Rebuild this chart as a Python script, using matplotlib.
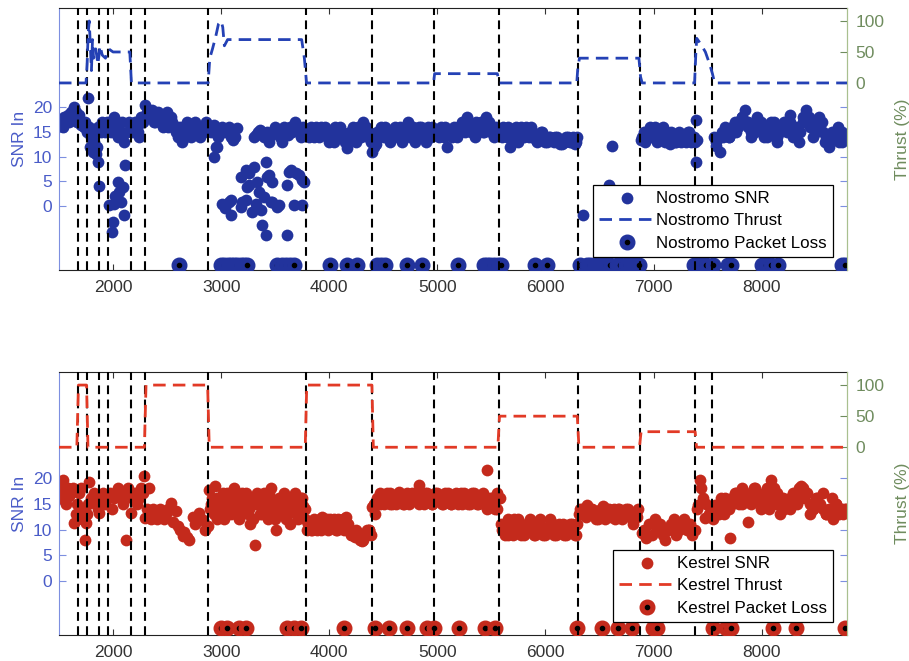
import matplotlib.pyplot as plt
from matplotlib.lines import Line2D
from matplotlib.legend_handler import HandlerTuple

plt.rcParams['font.family'] = ['Liberation Sans', 'DejaVu Sans']
plt.rcParams['font.size'] = 12.5

# flight event markers (shared by both vehicles)
events = [1674, 1760, 1874, 1957, 2166, 2298, 2880, 3784, 4400, 4972,
          5566, 6299, 6874, 7388, 7545]

# ---- Nostromo ----
nos_snr_x = [1505, 1520, 1535, 1550, 1565, 1580, 1595, 1610, 1625, 1640, 1655, 1670, 1685, 1700, 1715, 1730,
             1745, 1760, 1772, 1780, 1790, 1800, 1810, 1820, 1830, 1840, 1850, 1858, 1865, 1874, 1885, 1895,
             1905, 1925, 1945, 1965, 1985, 2005, 2025, 2045, 2065, 2085, 2105, 2125, 2145, 2165,
             1966, 1991, 1997, 2005, 2020, 2043, 2059, 2074, 2089, 2105, 2110,
             2180, 2200, 2220, 2240, 2260, 2280, 2300, 2320, 2340, 2360, 2380, 2400, 2420, 2440, 2460, 2480,
             2500, 2520, 2540, 2560, 2580, 2600, 2620, 2640, 2660, 2680, 2700, 2720, 2740, 2760, 2780, 2800,
             2820, 2840, 2860,
             2890, 2910, 2930, 2950, 2970, 2990, 3010, 3030, 3050, 3070, 3090, 3110, 3130, 3150,
             2936, 2966, 3012, 3040, 3074, 3089, 3089, 3181, 3181, 3197, 3227, 3228, 3243, 3258, 3259, 3289,
             3304, 3320, 3335, 3351, 3366, 3382, 3397, 3412, 3412, 3427, 3443, 3458, 3474, 3474, 3520, 3535,
             3612, 3612, 3628, 3643, 3674, 3689, 3720, 3751, 3751, 3766,
             3300, 3320, 3340, 3360, 3380, 3400, 3420, 3440, 3460, 3480, 3500, 3520, 3540, 3560, 3580, 3600,
             3620, 3640, 3660, 3680, 3700, 3720, 3740, 3760, 3780,
             3800, 3830, 3860, 3890, 3920, 3950, 3980, 4010, 4040, 4070, 4100, 4130, 4160, 4190, 4220, 4250,
             4280, 4310, 4340, 4370, 4400, 4430, 4460, 4490, 4520, 4550, 4580, 4610, 4640, 4670, 4700, 4730,
             4760, 4790, 4820, 4850, 4880, 4910, 4940, 4970,
             5000, 5030, 5060, 5090, 5120, 5150, 5180, 5210, 5240, 5270, 5300, 5330, 5360, 5390, 5420, 5450,
             5480, 5510, 5540, 5560,
             5580, 5610, 5640, 5670, 5700, 5730, 5760, 5790, 5820, 5850, 5880, 5910, 5940, 5970, 6000, 6030,
             6060, 6090, 6120, 6150, 6180, 6210, 6240, 6270, 6295,
             6351, 6591, 6618,
             6880, 6910, 6940, 6970, 7000, 7030, 7060, 7090, 7120, 7150, 7180, 7210, 7240, 7270, 7300, 7330,
             7360, 7385,
             7397, 7397, 7405,
             7560, 7581, 7612, 7640, 7670, 7700, 7730, 7760, 7790, 7820, 7843, 7870, 7900, 7930, 7960, 7990,
             8020, 8050, 8080, 8110, 8140, 8170, 8200, 8230, 8260, 8290, 8320, 8350, 8380, 8410, 8440, 8470,
             8500, 8530, 8560, 8590, 8620, 8650, 8680, 8710, 8740, 8770, 8785,
             # second sample per interval
             2190, 2230, 2270, 2310, 2350, 2390, 2430, 2470, 2510, 2550, 2590, 2630, 2670, 2710, 2750, 2790,
             2830, 2870,
             3815, 3845, 3875, 3905, 3935, 3965, 3995, 4025, 4055, 4085, 4115, 4145, 4175, 4205, 4235, 4265,
             4295, 4325, 4355, 4385, 4415, 4445, 4475, 4505, 4535, 4565, 4595, 4625, 4655, 4685, 4715, 4745,
             4775, 4805, 4835, 4865, 4895, 4925, 4955,
             5015, 5045, 5075, 5105, 5135, 5165, 5195, 5225, 5255, 5285, 5315, 5345, 5375, 5405, 5435, 5465,
             5495, 5525,
             5595, 5625, 5655, 5685, 5715, 5745, 5775, 5805, 5835, 5865, 5895, 5925, 5955, 5985, 6015, 6045,
             6075, 6105, 6135, 6165, 6195, 6225, 6255, 6285,
             6895, 6925, 6955, 6985, 7015, 7045, 7075, 7105, 7135, 7165, 7195, 7225, 7255, 7285, 7315, 7345,
             7375,
             7575, 7605, 7635, 7665, 7695, 7725, 7755, 7785, 7815, 7845, 7875, 7905, 7935, 7965, 7995, 8025,
             8055, 8085, 8115, 8145, 8175, 8205, 8235, 8265, 8295, 8325, 8355, 8385, 8415, 8445, 8475, 8505,
             8535, 8565, 8595, 8625, 8655, 8685, 8715, 8745, 8775]
nos_snr_y = [16.5, 17.5, 16, 18, 17, 18.5, 17, 19, 18, 20, 19, 17, 18.5, 16.5, 17, 16,
             17, 15, 22, 16, 12, 14, 11, 13, 15, 10.5, 12, 9, 16, 4, 15, 17,
             16, 15, 17, 16, 15, 18, 16, 14, 15, 17, 13, 15, 17, 16,
             0.2, -5.2, -3.2, 0.5, 2, 4.9, 2.9, 0.9, 3.9, -1.8, 8.3,
             15, 17, 16, 14, 18, 17, 20.5, 19, 18, 19.5, 17, 18, 19, 17, 16, 18,
             19, 17, 18, 16, 15, 14, 16, 13, 15, 17, 16, 14, 15, 17, 16, 14,
             16, 15, 17,
             16, 15, 16.5, 12, 14, 15, 16, 15, 15.5, 16, 14, 13.5, 14, 15.8,
             10.0, 12.0, 0.5, -0.5, 0.9, 1.2, -1.9, -0.2, 5.9, 0.9, 1.2, 7.3, 3.9, 6.6, 4.3, -1.2,
             8.0, 0.5, 4.9, 2.9, -0.8, -3.9, 1.9, 9.0, -5.9, 5.9, 6.3, 0.9, 4.9, 0.9, -0.2, 0.2,
             -5.9, 4.2, 7.0, 7.3, 0.2, 6.6, 6.3, 5.3, 0.2, 4.9,
             14, 14.5, 15, 15.5, 15, 14, 15, 13, 14.5, 15, 16, 15, 14, 13, 16, 15,
             14.5, 16, 15, 17, 16, 15, 14, 16, 15,
             15, 16, 14, 15, 16, 14.5, 15, 14, 13, 15, 16, 14, 11.7, 15, 16, 13,
             15, 17, 16, 15, 11, 12.5, 14, 15, 16, 14, 15, 16, 15, 13, 15, 17,
             15, 13, 14, 16, 15, 16, 14, 15,
             15, 16, 14, 12, 15, 16, 14, 15, 16.5, 18, 16, 15, 17, 16, 15, 18,
             17, 15, 16, 14.5,
             15, 16, 14, 12, 15, 16, 14, 15, 16, 14, 15, 13.5, 14, 15, 13, 14,
             13.5, 14, 13, 12.5, 13, 14, 13, 12.5, 14,
             -1.8, 4.3, 12.2,
             13.5, 15, 14, 16, 15, 13, 14, 16, 15, 12.5, 14, 13, 15, 14, 13, 15,
             14, 13,
             17.5, 9.0, 13.5,
             14, 12.1, 11, 14, 15, 14, 16, 15, 17, 18, 19.5, 17, 15, 16, 18, 17,
             15, 14, 16, 17, 13, 15, 16, 17, 18.5, 16, 15, 13, 17, 19.5, 18, 16,
             15, 18, 17, 13, 12, 15, 14, 16, 13, 14, 14.4,
             # second sample per interval
             16, 15, 17, 19, 18, 17, 18, 17, 16, 17, 16, 15, 14, 15, 16, 15,
             15, 16,
             14, 15, 16, 14, 15, 16, 13, 15, 16, 14, 15, 13, 14, 15, 14, 16,
             14, 15, 14, 13, 12, 15, 16, 14, 15, 13, 14, 15, 16, 14, 16, 14,
             16, 15, 16, 14, 13, 15, 16,
             14, 15, 16, 15, 14, 15, 16, 17, 15, 16, 15, 14, 16, 17, 15, 16,
             15, 14,
             14, 15, 16, 14, 15, 13, 16, 14, 15, 16, 14, 13, 15, 14, 13, 14,
             13, 14, 12.5, 13.5, 14, 13, 14, 13,
             14, 13, 15, 14, 16, 14, 15, 13, 14, 15, 13, 14, 13, 14, 15, 13,
             14,
             13, 14, 15, 16, 14, 15, 17, 16, 18, 17, 16, 14, 15, 17, 16, 14,
             15, 17, 15, 14, 16, 17, 15, 17, 14, 16, 15, 18, 17, 16, 14, 17,
             16, 15, 14, 13, 14, 15, 13, 15, 14]
nos_thrust_x = [1500, 1750, 1760, 1770, 1780, 1790, 1800, 1810, 1820, 1840, 1860, 1880, 1900, 1930, 1960,
                2000, 2155, 2170, 2880, 2895, 2920, 2950, 2975, 3000, 3015, 3030, 3060, 3085, 3745, 3770,
                3790, 4965, 4975, 5555, 5575, 6290, 6300, 6315, 6865, 6880, 6895, 7380, 7392, 7400, 7440,
                7480, 7520, 7545, 7565, 8790]
nos_thrust_y = [0, 0, 30, 80, 100, 60, 20, 70, 40, 55, 30, 60, 45, 40, 55,
                50, 50, 0, 0, 40, 55, 75, 95, 100, 90, 60, 70, 70, 70, 40,
                0, 0, 15, 15, 0, 0, 25, 40, 40, 10, 0, 0, 50, 72, 62,
                50, 30, 15, 0, 0]
nos_loss_x = [2612, 3000, 3030, 3060, 3090, 3120, 3150, 3180, 3210, 3235, 3520, 3560, 3600, 3640, 3675,
              4010, 4165, 4260, 4440, 4480, 4520, 4720, 4860, 5195, 5430, 5460, 5490, 5520, 5560, 5590,
              5905, 6013, 6320, 6385, 6415, 6445, 6475, 6505, 6535, 6565, 6597, 6665, 6690, 6750, 6780,
              6810, 6840, 6865, 7370, 7410, 7450, 7490, 7550, 7690, 7720, 8000, 8040, 8090, 8150, 8740,
              8775]
nos_loss_level = -12

# ---- Kestrel ----
kes_snr_x = [1505, 1520, 1536, 1550, 1565, 1580, 1595, 1610, 1625, 1643, 1655, 1670, 1685, 1700, 1715, 1730,
             1736, 1751, 1760, 1770, 1782, 1800, 1820, 1840, 1860, 1874, 1890, 1910, 1930, 1950, 1970, 1990,
             2010, 2030, 2050, 2070, 2090, 2110, 2120, 2140, 2166, 2180, 2200, 2220, 2240, 2260, 2280, 2290,
             2300,
             2310, 2330, 2350, 2370, 2390, 2410, 2430, 2450, 2470, 2490, 2510, 2535, 2551, 2582, 2597, 2620,
             2643, 2659, 2680, 2705, 2736, 2760, 2797, 2810, 2828, 2850, 2874,
             2890, 2915, 2940, 2965, 2990, 3015, 3040, 3065, 3090, 3115, 3140, 3165, 3190, 3215, 3240, 3265,
             3290, 3311, 3335, 3360, 3385, 3410, 3435, 3460, 3485, 3510, 3535, 3560, 3585, 3610, 3635, 3660,
             3685, 3710, 3735, 3760, 3780,
             2900, 2950, 3000, 3050, 3100, 3150, 3200, 3250, 3300, 3350, 3400, 3450, 3500, 3550, 3600, 3650,
             3700, 3750,
             3790, 3815, 3840, 3865, 3890, 3915, 3935, 3960, 3985, 4010, 4035, 4060, 4085, 4110, 4135, 4151,
             4175, 4200, 4212, 4235, 4260, 4285, 4305, 4330, 4350, 4366, 4385,
             4397, 4420, 4445, 4470, 4489, 4510, 4535, 4560, 4585, 4610, 4643, 4670, 4695, 4720, 4745, 4770,
             4795, 4828, 4850, 4875, 4900, 4925, 4950, 4975, 5000, 5025, 5050, 5075, 5100, 5125, 5150, 5175,
             5200, 5225, 5250, 5275, 5300, 5325, 5350, 5375, 5400, 5425, 5458, 5480, 5505, 5530, 5550, 5566,
             5582, 5600, 5625, 5650, 5675, 5700, 5725, 5750, 5775, 5800, 5825, 5850, 5875, 5900, 5925, 5950,
             5975, 6000, 6025, 6050, 6075, 6100, 6125, 6150, 6175, 6200, 6225, 6250, 6275, 6295,
             6310, 6335, 6360, 6385, 6410, 6435, 6460, 6485, 6510, 6535, 6560, 6585, 6610, 6635, 6660, 6685,
             6710, 6735, 6760, 6785, 6810, 6835, 6860,
             6889, 6910, 6935, 6960, 6985, 7010, 7035, 7060, 7085, 7110, 7135, 7160, 7185, 7210, 7235, 7260,
             7285, 7310, 7335, 7360, 7385,
             7400, 7412, 7428, 7443, 7460, 7474, 7490, 7510, 7530, 7550, 7566, 7590, 7620, 7650, 7680, 7705,
             7730, 7760, 7790, 7820, 7850, 7874, 7900, 7930, 7960, 7990, 8020, 8050, 8070, 8089, 8110, 8140,
             8170, 8200, 8230, 8260, 8290, 8320, 8350, 8366, 8390, 8420, 8450, 8480, 8510, 8540, 8570, 8600,
             8630, 8660, 8690, 8720, 8750, 8780,
             # second sample per interval
             2902, 2932, 2962, 2992, 3022, 3052, 3082, 3112, 3142, 3172, 3202, 3232, 3262, 3292, 3322, 3352,
             3382, 3412, 3442, 3472, 3502, 3532, 3562, 3592, 3622, 3652, 3682, 3712, 3742, 3772,
             3802, 3832, 3862, 3892, 3922, 3952, 3982, 4012, 4042, 4072, 4102, 4132, 4162, 4192, 4222, 4252,
             4282, 4312, 4342, 4372,
             4410, 4440, 4470, 4500, 4530, 4560, 4590, 4620, 4650, 4680, 4710, 4740, 4770, 4800, 4830, 4860,
             4890, 4920, 4950, 4980, 5010, 5040, 5070, 5100, 5130, 5160, 5190, 5220, 5250, 5280, 5310, 5340,
             5370, 5400, 5430, 5460, 5490, 5520, 5550,
             5590, 5620, 5650, 5680, 5710, 5740, 5770, 5800, 5830, 5860, 5890, 5920, 5950, 5980, 6010, 6040,
             6070, 6100, 6130, 6160, 6190, 6220, 6250, 6280,
             6322, 6347, 6372, 6397, 6422, 6447, 6472, 6497, 6522, 6547, 6572, 6597, 6622, 6647, 6672, 6697,
             6722, 6747, 6772, 6797, 6822, 6847,
             7575, 7605, 7635, 7665, 7695, 7725, 7755, 7785, 7815, 7845, 7875, 7905, 7935, 7965, 7995, 8025,
             8055, 8085, 8115, 8145, 8175, 8205, 8235, 8265, 8295, 8325, 8355, 8385, 8415, 8445, 8475, 8505,
             8535, 8565, 8595, 8625, 8655, 8685, 8715, 8745, 8775]
kes_snr_y = [16, 18, 19.6, 17, 15, 18, 16.5, 17, 18, 11.2, 13, 15, 17, 18, 12, 14,
             8.0, 11.2, 13, 15, 19.2, 16, 17, 15, 14, 13.1, 16, 17, 15, 16, 17, 14,
             16, 17, 18, 16, 15, 17, 8.0, 18, 13.1, 16, 17, 15, 16, 18, 17, 20.2,
             12.2,
             14, 18, 12, 14, 13, 12, 14, 13, 12, 13, 14, 15.1, 11.5, 13.5, 10.6, 10,
             8.7, 9.6, 8.5, 8.0, 12.5, 11, 13.1, 12, 11.9, 10, 10.6,
             17.6, 16, 18.3, 12, 15, 17, 14, 16, 13, 18, 15, 12, 17, 14, 16, 11,
             15, 7.1, 17, 13, 16, 14, 12, 18, 15, 10, 16, 13, 17, 15, 11, 14,
             17, 15, 13, 14.5, 12,
             14, 15, 13, 17, 15, 16, 14, 13, 16, 15, 17, 16, 14, 16, 12, 16,
             13, 16,
             10, 11, 9.9, 11, 10, 12, 12.5, 11, 10, 12, 11, 10, 12, 11, 10, 12.5,
             11, 9, 9, 8.5, 9.5, 8, 7.7, 9, 10, 9.9, 9,
             14.4, 13, 15, 17, 16.7, 15, 16, 17, 15, 16, 17.3, 16, 15, 17, 16, 16,
             17, 18.6, 16, 15, 17, 16, 15, 16, 17, 16, 15, 16, 17, 15, 16, 17,
             16, 15, 17, 16, 15, 17, 16, 15, 16, 17, 21.5, 15, 16, 14, 17, 16,
             16, 10, 9, 12, 11, 9, 10, 12, 11, 9, 10, 11, 10, 9, 11, 12,
             10, 9, 10, 11, 9, 10, 11, 10, 9, 10, 11, 10, 9, 11,
             13, 14, 13.5, 14.8, 13, 14, 13.5, 12, 14, 14.5, 13, 14, 12.5, 14, 13, 14,
             12, 13.5, 14, 13, 11, 13, 14,
             9.3, 10, 8.3, 11, 9, 12, 10, 11, 9, 8, 10, 11, 12, 9, 10, 11,
             12, 10, 11, 9, 10,
             14, 14.8, 19.6, 18, 16, 12.2, 15, 13, 14, 12, 14.8, 14, 16, 13, 15, 8.3,
             16, 17, 15, 18, 16, 11.5, 17, 18, 16, 15, 17, 18, 14, 19.6, 15, 17,
             13, 16, 15, 14, 16, 17, 18, 18.3, 16, 17, 13, 14, 16, 15, 17, 13,
             14, 12, 15, 14, 13, 14,
             # second sample per interval
             15, 13, 16, 14, 12, 15, 17, 14, 16, 13, 15, 17, 14, 12, 15, 16,
             13, 15, 17, 14, 12, 15, 16, 14, 13, 16, 15, 12, 16, 14,
             11, 10, 12, 11, 10, 11, 12, 11, 12, 10, 11, 12, 11, 10, 9, 10,
             9, 8, 9, 10,
             15, 16, 15, 16, 17, 15, 16, 15, 16, 15, 16, 15, 17, 16, 15, 16,
             17, 16, 15, 17, 16, 15, 17, 16, 15, 16, 15, 17, 16, 15, 16, 17,
             15, 16, 15, 14, 16, 15, 14,
             11, 10, 9, 10, 12, 11, 9, 10, 11, 12, 9, 10, 11, 9, 10, 12,
             11, 9, 10, 11, 9, 10, 11, 9,
             14, 13, 12.5, 13, 14, 13, 12, 13.5, 13, 12, 14, 13, 13.5, 12, 14, 13,
             12.5, 14, 13, 12, 13, 12.5,
             14, 13, 15, 16, 14, 15, 17, 16, 15, 17, 16, 15, 18, 16, 14, 15,
             17, 16, 18, 15, 16, 14, 15, 16, 17, 15, 16, 18, 17, 15, 14, 16,
             15, 14, 13, 14, 16, 15, 13, 14, 14]
kes_thrust_x = [1500, 1665, 1680, 1755, 1768, 2290, 2305, 2875, 2890, 3778, 3792,
                4395, 4408, 5560, 5575, 6295, 6310, 6870, 6885, 7385, 7398, 8790]
kes_thrust_y = [0, 0, 100, 100, 0, 0, 100, 100, 0, 0, 100,
                100, 0, 0, 50, 50, 0, 0, 25, 25, 0, 0]
kes_loss_x = [2997, 3058, 3166, 3227, 3612, 3674, 3735, 4135, 4428, 4551, 4720, 4905, 4966, 5205,
              5443, 5536, 6290, 6520, 6674, 6797, 6997, 7028, 7551, 7674, 7720, 8105, 8320, 8767]
kes_loss_level = -9

snr_text = '#4a5cc8'
snr_spine = '#7d8fe0'
thr_text = '#6f8c5e'
thr_spine = '#a9c08f'


def draw_panel(ax, name, dot_col, line_col, snr_x, snr_y, thr_x, thr_y,
               loss_x, loss_level, snr_lim):
    sc = ax.scatter(snr_x, snr_y, s=72, c=dot_col, linewidths=0, zorder=2)
    # one marker at a time so later circles cover earlier centre dots
    for x in loss_x:
        ax.plot([x], [loss_level], 'o', ms=10.5, mfc=dot_col, mec=dot_col, zorder=3)
        ax.plot([x], [loss_level], 'o', ms=3, color='k', zorder=3)
    ax.set_xlim(1500, 8790)
    ax.set_ylim(*snr_lim)
    ax.set_xticks(range(2000, 8001, 1000))
    ax.set_yticks([0, 5, 10, 15, 20])
    ax.set_ylabel('SNR In', color=snr_text, labelpad=4)

    ax2 = ax.twinx()
    th, = ax2.plot(thr_x, thr_y, color=line_col, lw=2, dashes=(4.5, 2.6), zorder=4)
    for e in events:
        ax2.axvline(e, color='k', lw=1.5, dashes=(4.2, 2.6), zorder=3)
    ax2.set_ylim(-302, 121)
    ax2.set_yticks([0, 50, 100])
    ax2.set_ylabel('Thrust (%)', color=thr_text, labelpad=8)

    ax.tick_params(axis='x', direction='in', top=True, length=4, pad=7, colors='#333333')
    ax.tick_params(axis='y', direction='in', left=True, right=True, length=5,
                   pad=5, colors=snr_text)
    ax2.tick_params(axis='y', direction='in', length=5, pad=6, colors=thr_text)
    ax.tick_params(axis='y', which='both', color=snr_spine)
    for s in ('top', 'bottom'):
        ax.spines[s].set_color('#222222')
    ax.spines['left'].set_color(snr_spine)
    ax.spines['right'].set_color(thr_spine)
    for s in ('top', 'bottom', 'left'):
        ax2.spines[s].set_visible(False)
    ax2.spines['right'].set_color(thr_spine)

    big = Line2D([], [], ls='none', marker='o', ms=10.5, mfc=dot_col, mec=dot_col)
    dot = Line2D([], [], ls='none', marker='o', ms=3, color='k')
    leg = ax2.legend([sc, th, (big, dot)],
                     [f'{name} SNR', f'{name} Thrust', f'{name} Packet Loss'],
                     handler_map={tuple: HandlerTuple(ndivide=1)},
                     loc='lower right', bbox_to_anchor=(0.982, 0.05),
                     borderaxespad=0, fancybox=False, framealpha=1, edgecolor='k',
                     handlelength=3.3, handletextpad=0.1, labelspacing=0.45,
                     borderpad=0.35, fontsize=12.2)
    leg.get_frame().set_linewidth(0.9)
    leg.set_zorder(10)


fig = plt.figure(figsize=(9.09, 6.61), dpi=100)
ax_top = fig.add_axes([0.0649, 0.5915, 0.8669, 0.3964])
ax_bot = fig.add_axes([0.0649, 0.0393, 0.8669, 0.3979])

draw_panel(ax_top, 'Nostromo', '#22339c', '#2441b5', nos_snr_x, nos_snr_y,
           nos_thrust_x, nos_thrust_y, nos_loss_x, nos_loss_level, (-13, 40.2))
draw_panel(ax_bot, 'Kestrel', '#c42a1c', '#e23a26', kes_snr_x, kes_snr_y,
           kes_thrust_x, kes_thrust_y, kes_loss_x, kes_loss_level, (-10.3, 40.3))

fig.savefig('out.png', dpi=100)
